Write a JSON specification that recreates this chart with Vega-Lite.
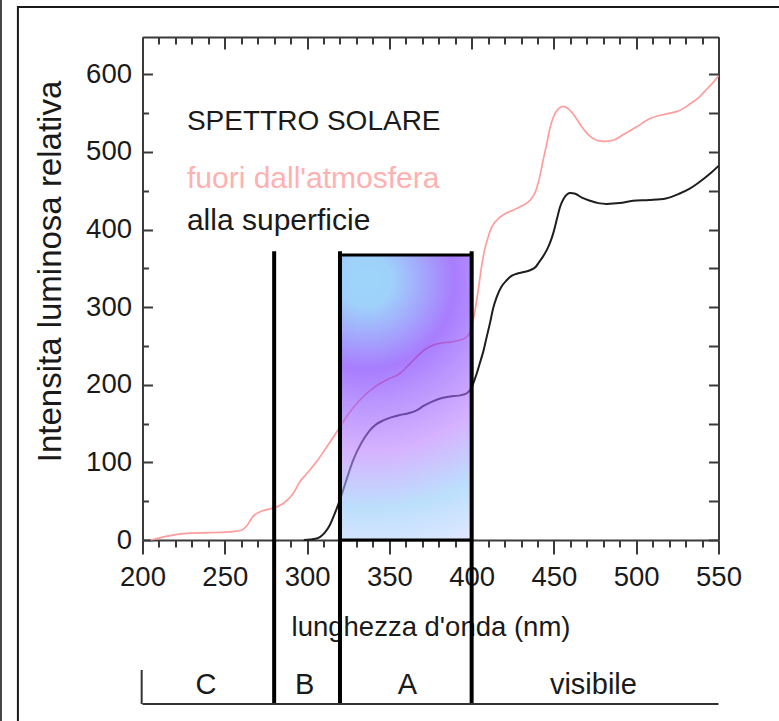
{
  "$schema": "https://vega.github.io/schema/vega-lite/v6.json",
  "width": 576,
  "height": 503,
  "autosize": "none",
  "padding": {"left": 142.5, "top": 37, "right": 60.5, "bottom": 181},
  "background": "white",
  "config": {"view": {"stroke": null}, "font": "Liberation Sans"},
  "datasets": {
    "fuori": [
      {"nm": 205, "v": 0}, {"nm": 210, "v": 2.5}, {"nm": 215, "v": 5}, {"nm": 220, "v": 7}, {"nm": 227, "v": 8.6},
      {"nm": 241, "v": 9.4}, {"nm": 255, "v": 10.7}, {"nm": 260, "v": 12.5}, {"nm": 264, "v": 20}, {"nm": 267, "v": 30},
      {"nm": 273, "v": 37.7}, {"nm": 279, "v": 40.8}, {"nm": 285.5, "v": 47}, {"nm": 291.6, "v": 60}, {"nm": 295.6, "v": 75},
      {"nm": 300, "v": 86}, {"nm": 305.8, "v": 101}, {"nm": 312, "v": 120}, {"nm": 318.6, "v": 141}, {"nm": 325, "v": 162},
      {"nm": 332, "v": 180}, {"nm": 338, "v": 192}, {"nm": 344.3, "v": 201.7}, {"nm": 350, "v": 208}, {"nm": 356.4, "v": 214.5},
      {"nm": 361, "v": 224}, {"nm": 366.6, "v": 236}, {"nm": 372, "v": 246}, {"nm": 376.7, "v": 251}, {"nm": 382, "v": 254},
      {"nm": 387, "v": 255}, {"nm": 392, "v": 257}, {"nm": 396, "v": 260}, {"nm": 399, "v": 268}, {"nm": 400.5, "v": 280},
      {"nm": 402, "v": 295}, {"nm": 404, "v": 322}, {"nm": 406, "v": 352}, {"nm": 408, "v": 375}, {"nm": 410, "v": 390},
      {"nm": 412, "v": 402}, {"nm": 414, "v": 409}, {"nm": 416.2, "v": 414}, {"nm": 420, "v": 420}, {"nm": 425.4, "v": 425},
      {"nm": 430, "v": 430}, {"nm": 435.5, "v": 437.6}, {"nm": 439, "v": 450}, {"nm": 441.6, "v": 470}, {"nm": 443.5, "v": 490},
      {"nm": 445.6, "v": 510}, {"nm": 447.5, "v": 530}, {"nm": 449.7, "v": 545}, {"nm": 452.5, "v": 555}, {"nm": 455.7, "v": 558.5},
      {"nm": 459, "v": 555}, {"nm": 463, "v": 545}, {"nm": 467, "v": 532}, {"nm": 471, "v": 522}, {"nm": 476, "v": 515},
      {"nm": 480.5, "v": 513.5}, {"nm": 486, "v": 515}, {"nm": 492, "v": 522}, {"nm": 500, "v": 532}, {"nm": 508.5, "v": 543},
      {"nm": 518.6, "v": 549}, {"nm": 526, "v": 553}, {"nm": 532.8, "v": 562}, {"nm": 538, "v": 570}, {"nm": 543, "v": 581},
      {"nm": 547, "v": 590}, {"nm": 550, "v": 598}
    ],
    "superficie": [
      {"nm": 298, "v": 0}, {"nm": 302, "v": 0.5}, {"nm": 305, "v": 1.5}, {"nm": 308, "v": 4}, {"nm": 311, "v": 10},
      {"nm": 314, "v": 20}, {"nm": 317, "v": 35}, {"nm": 320, "v": 52}, {"nm": 324, "v": 78}, {"nm": 328, "v": 103},
      {"nm": 333, "v": 125}, {"nm": 338, "v": 141}, {"nm": 342, "v": 149}, {"nm": 346.3, "v": 154}, {"nm": 351, "v": 158},
      {"nm": 356.4, "v": 161}, {"nm": 361, "v": 163}, {"nm": 366.6, "v": 167}, {"nm": 371, "v": 173}, {"nm": 376.7, "v": 179},
      {"nm": 382, "v": 183}, {"nm": 387, "v": 185}, {"nm": 392, "v": 186}, {"nm": 397, "v": 189}, {"nm": 400, "v": 197},
      {"nm": 403.1, "v": 214.5}, {"nm": 405, "v": 228}, {"nm": 407.1, "v": 243}, {"nm": 409.2, "v": 262}, {"nm": 411.2, "v": 280},
      {"nm": 413, "v": 298}, {"nm": 415.2, "v": 313}, {"nm": 418, "v": 326}, {"nm": 421.3, "v": 334.6}, {"nm": 424, "v": 340},
      {"nm": 427.4, "v": 343}, {"nm": 431, "v": 345}, {"nm": 435.5, "v": 347.5}, {"nm": 439, "v": 352}, {"nm": 441, "v": 358},
      {"nm": 443.6, "v": 366}, {"nm": 446, "v": 375}, {"nm": 448, "v": 385}, {"nm": 449.7, "v": 396}, {"nm": 452, "v": 415},
      {"nm": 453.7, "v": 429}, {"nm": 456, "v": 440}, {"nm": 460, "v": 447}, {"nm": 463, "v": 446}, {"nm": 467, "v": 441},
      {"nm": 472, "v": 437}, {"nm": 477, "v": 434}, {"nm": 482, "v": 433}, {"nm": 490, "v": 434}, {"nm": 498, "v": 437},
      {"nm": 508, "v": 438}, {"nm": 518, "v": 440}, {"nm": 526, "v": 446}, {"nm": 532, "v": 452}, {"nm": 537, "v": 459},
      {"nm": 542, "v": 467}, {"nm": 546, "v": 474}, {"nm": 550, "v": 482}
    ],
    "bands": [
      {"band": "C", "mid": 238.5}, {"band": "B", "mid": 298.5}, {"band": "A", "mid": 361}, {"band": "visibile", "mid": 474}
    ],
    "limits": [{"nm": 280}, {"nm": 320}, {"nm": 400}],
    "one": [{}]
  },
  "layer": [
    {
      "data": {"name": "fuori"},
      "mark": {"type": "line", "interpolate": "monotone", "color": "#ff9c9c", "strokeWidth": 1.7, "clip": false},
      "encoding": {
        "x": {
          "field": "nm", "type": "quantitative",
          "scale": {"domain": [200, 550], "nice": false, "zero": false},
          "axis": {
            "orient": "bottom",
            "values": [200, 210, 220, 230, 240, 250, 260, 270, 280, 290, 300, 310, 320, 330, 340, 350, 360, 370, 380, 390, 400, 410, 420, 430, 440, 450, 460, 470, 480, 490, 500, 510, 520, 530, 540, 550],
            "labelExpr": "datum.value % 50 === 0 ? datum.label : ''",
            "tickSize": {"condition": {"test": "datum.value % 50 === 0", "value": 14}, "value": 7},
            "labelPadding": 9, "labelFlush": false, "labelOverlap": false,
            "labelFont": "Liberation Sans", "labelFontSize": 27.5, "labelColor": "#1a1a1a",
            "domainColor": "#3a3a3a", "domainWidth": 2, "tickColor": "#3a3a3a", "tickWidth": 2, "grid": false,
            "title": "lunghezza d'onda (nm)", "titleFont": "Liberation Sans", "titleFontSize": 27.5,
            "titleFontWeight": "normal", "titleColor": "#1a1a1a", "titleX": 288, "titleY": 95,
            "titleBaseline": "alphabetic", "titleAlign": "center"
          }
        },
        "y": {
          "field": "v", "type": "quantitative",
          "scale": {"domain": [0, 648], "nice": false},
          "axis": {
            "orient": "left",
            "values": [0, 50, 100, 150, 200, 250, 300, 350, 400, 450, 500, 550, 600],
            "labelExpr": "datum.value % 100 === 0 ? datum.label : ''",
            "tickSize": {"condition": {"test": "datum.value % 100 === 0", "value": -10}, "value": -6},
            "labelPadding": 21, "labelAlign": "right", "labelFlush": false, "labelOverlap": false,
            "labelFont": "Liberation Sans", "labelFontSize": 27.5, "labelColor": "#1a1a1a",
            "domainColor": "#3a3a3a", "domainWidth": 2, "tickColor": "#3a3a3a", "tickWidth": 2, "grid": false,
            "title": "Intensita luminosa relativa", "titleFont": "Liberation Sans", "titleFontSize": 33,
            "titleFontWeight": "normal", "titleColor": "#1a1a1a", "titleX": -82, "titleY": 234,
            "titleBaseline": "alphabetic", "titleAlign": "center", "titleAngle": -90
          }
        }
      }
    },
    {
      "data": {"name": "superficie"},
      "mark": {"type": "line", "interpolate": "monotone", "color": "#1e1e1e", "strokeWidth": 2, "clip": false},
      "encoding": {
        "x": {
          "field": "nm", "type": "quantitative",
          "scale": {"domain": [200, 550], "nice": false, "zero": false},
          "axis": {
            "orient": "top",
            "values": [200, 210, 220, 230, 240, 250, 260, 270, 280, 290, 300, 310, 320, 330, 340, 350, 360, 370, 380, 390, 400, 410, 420, 430, 440, 450, 460, 470, 480, 490, 500, 510, 520, 530, 540, 550],
            "labels": false,
            "tickSize": {"condition": {"test": "datum.value % 50 === 0", "value": -12}, "value": -7},
            "domainColor": "#3a3a3a", "domainWidth": 2, "tickColor": "#3a3a3a", "tickWidth": 2, "grid": false, "title": null
          }
        },
        "y": {
          "field": "v", "type": "quantitative",
          "scale": {"domain": [0, 648], "nice": false},
          "axis": {
            "orient": "right",
            "values": [0, 50, 100, 150, 200, 250, 300, 350, 400, 450, 500, 550, 600],
            "labels": false, "tickSize": -10,
            "domainColor": "#3a3a3a", "domainWidth": 2, "tickColor": "#3a3a3a", "tickWidth": 2, "grid": false, "title": null
          }
        }
      }
    },
    {
      "data": {"name": "one"},
      "mark": {
        "type": "rect", "clip": false, "fillOpacity": 0.6, "stroke": "#000", "strokeWidth": 3,
        "fill": {
          "gradient": "radial", "x1": 0.36, "y1": 0.09, "r1": 0, "x2": 0.36, "y2": 0.09, "r2": 1,
          "stops": [
            {"offset": 0, "color": "#5db7f7"},
            {"offset": 0.09, "color": "#5fb3f8"},
            {"offset": 0.31, "color": "#6e26fd"},
            {"offset": 0.43, "color": "#8c50fe"},
            {"offset": 0.6, "color": "#bb80ff"},
            {"offset": 0.8, "color": "#8fcafa"},
            {"offset": 1, "color": "#d5d9ff"}
          ]
        }
      },
      "encoding": {
        "x": {"datum": 320, "type": "quantitative", "axis": null},
        "x2": {"datum": 400},
        "y": {"datum": 367, "type": "quantitative", "axis": null},
        "y2": {"datum": 0}
      }
    },
    {
      "data": {"name": "limits"},
      "mark": {"type": "rule", "color": "#000", "strokeWidth": 4, "clip": false},
      "encoding": {
        "x": {"field": "nm", "type": "quantitative", "axis": null},
        "y": {"datum": 372, "type": "quantitative", "axis": null},
        "y2": {"datum": -210}
      }
    },
    {
      "data": {"name": "bands"},
      "mark": {"type": "text", "font": "Liberation Sans", "fontSize": 29, "color": "#1a1a1a", "baseline": "alphabetic", "align": "center", "clip": false},
      "encoding": {
        "x": {"field": "mid", "type": "quantitative", "axis": null},
        "y": {"datum": -198, "type": "quantitative", "axis": null},
        "text": {"field": "band"}
      }
    },
    {
      "data": {"name": "one"},
      "mark": {"type": "rule", "color": "#333", "strokeWidth": 2, "clip": false},
      "encoding": {
        "x": {"datum": 200, "type": "quantitative", "axis": null},
        "x2": {"datum": 550},
        "y": {"datum": -211.3, "type": "quantitative", "axis": null}
      }
    },
    {
      "data": {"name": "one"},
      "mark": {"type": "rule", "color": "#333", "strokeWidth": 2, "clip": false},
      "encoding": {
        "x": {"datum": 199.5, "type": "quantitative", "axis": null},
        "y": {"datum": -167.5, "type": "quantitative", "axis": null},
        "y2": {"datum": -211.3}
      }
    },
    {
      "data": {"name": "one"},
      "mark": {"type": "text", "font": "Liberation Sans", "fontSize": 28, "color": "#1a1a1a", "baseline": "alphabetic", "align": "left", "clip": false},
      "encoding": {
        "x": {"datum": 227, "type": "quantitative", "axis": null},
        "y": {"datum": 528, "type": "quantitative", "axis": null},
        "text": {"value": "SPETTRO SOLARE"}
      }
    },
    {
      "data": {"name": "one"},
      "mark": {"type": "text", "font": "Liberation Sans", "fontSize": 30, "color": "#ffb0b0", "baseline": "alphabetic", "align": "left", "clip": false},
      "encoding": {
        "x": {"datum": 227, "type": "quantitative", "axis": null},
        "y": {"datum": 453.5, "type": "quantitative", "axis": null},
        "text": {"value": "fuori dall'atmosfera"}
      }
    },
    {
      "data": {"name": "one"},
      "mark": {"type": "text", "font": "Liberation Sans", "fontSize": 30, "color": "#1a1a1a", "baseline": "alphabetic", "align": "left", "clip": false},
      "encoding": {
        "x": {"datum": 227, "type": "quantitative", "axis": null},
        "y": {"datum": 399.4, "type": "quantitative", "axis": null},
        "text": {"value": "alla superficie"}
      }
    },
    {
      "data": {"name": "one"},
      "mark": {"type": "rect", "clip": false, "fill": "transparent", "stroke": "#1a1a1a", "strokeWidth": 2},
      "encoding": {
        "x": {"datum": 124.3, "type": "quantitative", "axis": null},
        "x2": {"datum": 640},
        "y": {"datum": 686.7, "type": "quantitative", "axis": null},
        "y2": {"datum": -330}
      }
    },
    {
      "data": {"name": "one"},
      "mark": {"type": "rule", "color": "#444", "strokeWidth": 2, "clip": false},
      "encoding": {
        "x": {"datum": 114, "type": "quantitative", "axis": null},
        "y": {"datum": 720, "type": "quantitative", "axis": null},
        "y2": {"datum": -330}
      }
    }
  ],
  "resolve": {"axis": {"x": "independent", "y": "independent"}}
}
